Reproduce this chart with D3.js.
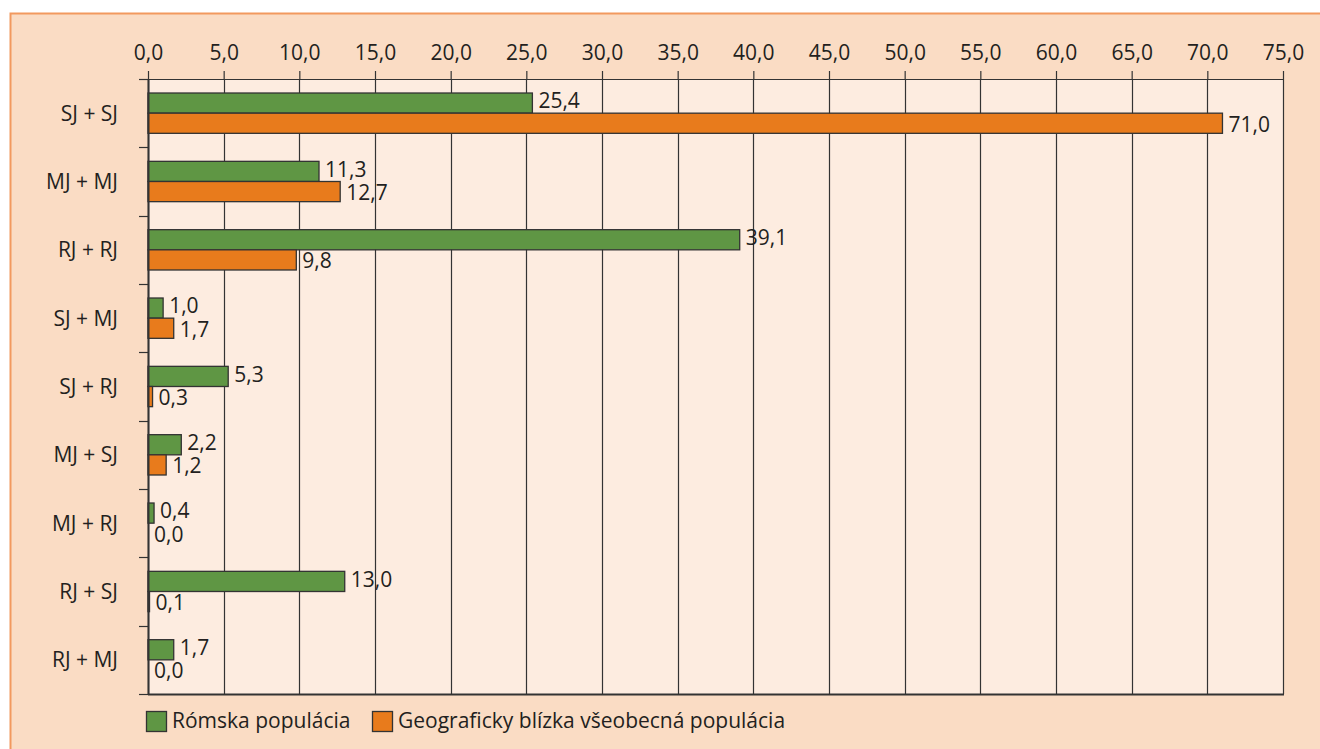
<!DOCTYPE html>
<html>
<head>
<meta charset="utf-8">
<script src="https://cdn.jsdelivr.net/npm/d3@7"></script>
<style>
  body { margin: 0; background: #ffffff; }
  svg { display: block; font-family: "Open Sans", sans-serif; }
</style>
</head>
<body>
<div id="chart"></div>
<script>
// data
var categories = ["SJ + SJ", "MJ + MJ", "RJ + RJ", "SJ + MJ", "SJ + RJ", "MJ + SJ", "MJ + RJ", "RJ + SJ", "RJ + MJ"];
var romaValues = [25.4, 11.3, 39.1, 1.0, 5.3, 2.2, 0.4, 13.0, 1.7];
var generalValues = [71.0, 12.7, 9.8, 1.7, 0.3, 1.2, 0.0, 0.1, 0.0];
var seriesNames = ["Rómska populácia", "Geograficky blízka všeobecná populácia"];
var xTicks = d3.range(0, 76, 5);

var width = 1320, height = 749;
var margin = { top: 79, left: 148, right: 37, bottom: 55 };
var greenFill = "#5f9644", orangeFill = "#e87b1c", inkColor = "#333333";

var svg = d3.select("#chart").append("svg")
  .attr("width", width)
  .attr("height", height);

// panel background with the orange edge on top and left
svg.append("rect")
  .attr("x", 10).attr("y", 13)
  .attr("width", width - 10).attr("height", height - 13)
  .attr("fill", "#fadcc4");
svg.append("path")
  .attr("d", "M10.5," + height + "V13.5H" + width)
  .attr("fill", "none")
  .attr("stroke", "#f2995f")
  .attr("stroke-width", 2);

var xScale = d3.scaleLinear()
  .domain([0, 75])
  .range([margin.left, width - margin.right]);

var yScale = d3.scaleBand()
  .domain(categories)
  .range([margin.top, height - margin.bottom]);

var bw = yScale.bandwidth();
var subScale = d3.scaleBand()
  .domain(["roma", "general"])
  .range([bw * 0.205, bw * 0.795]);

var fmt = function(v) { return d3.format(".1f")(v).replace(".", ","); };

// plot area
svg.append("rect")
  .attr("x", xScale(0)).attr("y", yScale.range()[0])
  .attr("width", xScale(75) - xScale(0))
  .attr("height", yScale.range()[1] - yScale.range()[0])
  .attr("fill", "#fdece0");

// vertical grid lines
svg.append("g")
  .selectAll("line")
  .data(xTicks)
  .enter().append("line")
  .attr("x1", d => Math.round(xScale(d)) + 0.5)
  .attr("x2", d => Math.round(xScale(d)) + 0.5)
  .attr("y1", yScale.range()[0])
  .attr("y2", yScale.range()[1])
  .attr("stroke", inkColor)
  .attr("stroke-width", 1.2);

// bottom border
svg.append("line")
  .attr("x1", xScale(0)).attr("x2", xScale(75) + 1)
  .attr("y1", yScale.range()[1] + 0.5).attr("y2", yScale.range()[1] + 0.5)
  .attr("stroke", inkColor).attr("stroke-width", 2);

// bars
var groups = svg.append("g")
  .selectAll("g")
  .data(categories)
  .enter().append("g")
  .attr("transform", d => "translate(0," + yScale(d) + ")");

groups.append("rect")
  .attr("x", xScale(0))
  .attr("y", subScale("roma"))
  .attr("width", (d, i) => xScale(romaValues[i]) - xScale(0))
  .attr("height", subScale.bandwidth())
  .attr("fill", greenFill)
  .attr("stroke", inkColor)
  .attr("stroke-width", 1.3);

groups.append("rect")
  .attr("x", xScale(0))
  .attr("y", subScale("general"))
  .attr("width", (d, i) => xScale(generalValues[i]) - xScale(0))
  .attr("height", subScale.bandwidth())
  .attr("fill", orangeFill)
  .attr("stroke", inkColor)
  .attr("stroke-width", 1.3)
  .style("display", (d, i) => generalValues[i] > 0 ? null : "none");

// value labels
groups.append("text")
  .attr("x", (d, i) => xScale(romaValues[i]) + 6)
  .attr("y", subScale("roma") + subScale.bandwidth() / 2 - 2)
  .attr("dy", "0.35em")
  .attr("font-size", 21)
  .attr("fill", "#231f20")
  .text((d, i) => fmt(romaValues[i]));

groups.append("text")
  .attr("x", (d, i) => xScale(generalValues[i]) + 6)
  .attr("y", subScale("general") + subScale.bandwidth() / 2 + 1)
  .attr("dy", "0.35em")
  .attr("font-size", 21)
  .attr("fill", "#231f20")
  .text((d, i) => fmt(generalValues[i]));

// top axis
var xAxis = svg.append("g")
  .attr("transform", "translate(0," + margin.top + ")")
  .call(d3.axisTop(xScale).tickValues(xTicks).tickSize(8).tickSizeOuter(0).tickPadding(11).tickFormat(fmt));
xAxis.select(".domain").remove();
xAxis.selectAll(".tick line").attr("stroke", inkColor).attr("stroke-width", 1.2);
xAxis.selectAll("text")
  .attr("font-size", 21)
  .attr("font-family", "Open Sans")
  .attr("fill", "#231f20");

svg.append("line")
  .attr("x1", margin.left - 9).attr("x2", xScale(75) + 1)
  .attr("y1", margin.top + 0.5).attr("y2", margin.top + 0.5)
  .attr("stroke", inkColor).attr("stroke-width", 1.2);

// left axis: ticks at category boundaries
var bounds = categories.map(d => yScale(d)).concat([yScale.range()[1]]);
svg.append("g")
  .selectAll("line")
  .data(bounds)
  .enter().append("line")
  .attr("x1", margin.left - 9).attr("x2", margin.left)
  .attr("y1", d => Math.round(d) + 0.5).attr("y2", d => Math.round(d) + 0.5)
  .attr("stroke", inkColor).attr("stroke-width", 1.2);
svg.append("line")
  .attr("x1", margin.left + 0.5).attr("x2", margin.left + 0.5)
  .attr("y1", yScale.range()[0]).attr("y2", yScale.range()[1] + 1)
  .attr("stroke", inkColor).attr("stroke-width", 2);

svg.append("g")
  .selectAll("text")
  .data(categories)
  .enter().append("text")
  .attr("x", 118)
  .attr("y", d => yScale(d) + bw / 2)
  .attr("dy", "0.35em")
  .attr("text-anchor", "end")
  .attr("font-size", 21)
  .attr("fill", "#231f20")
  .text(d => d);

// legend
var legend = svg.append("g").attr("transform", "translate(0,711)");
var legendX = [146, 372];
var legendFill = [greenFill, orangeFill];
seriesNames.forEach(function(name, i) {
  legend.append("rect")
    .attr("x", legendX[i] + 0.5).attr("y", 0.5)
    .attr("width", 20).attr("height", 20)
    .attr("fill", legendFill[i])
    .attr("stroke", inkColor).attr("stroke-width", 1.3);
  legend.append("text")
    .attr("x", legendX[i] + 26)
    .attr("y", 10)
    .attr("dy", "0.35em")
    .attr("font-size", 21)
    .attr("fill", "#231f20")
    .text(name);
});
</script>
</body>
</html>
